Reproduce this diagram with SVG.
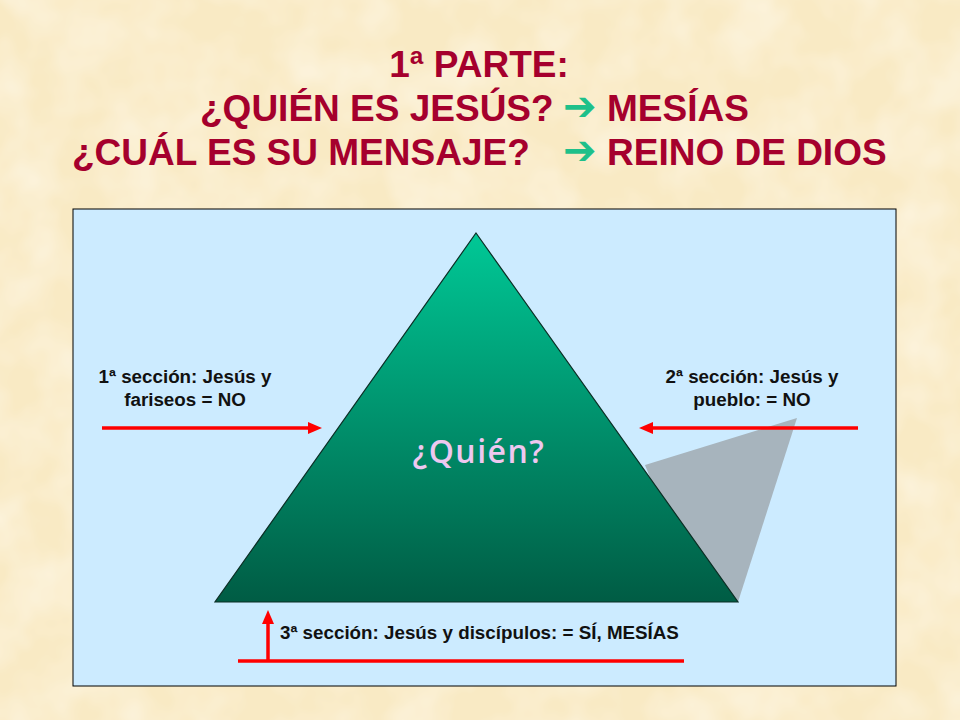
<svg xmlns="http://www.w3.org/2000/svg" width="960" height="720" viewBox="0 0 960 720">
  <defs>
    <style>
      .title { font-family: "Liberation Sans", Arial, sans-serif; font-weight: bold; font-size: 37px; fill: #A5002D; }
      .garrow { font-family: "DejaVu Sans", sans-serif; font-weight: bold; font-size: 40px; fill: #1EC08A; }
      .label { font-family: "Liberation Sans", Arial, sans-serif; font-weight: bold; font-size: 18.8px; fill: #111111; }
      .red { stroke: #FF0000; stroke-width: 3.5; fill: none; }
    </style>
    <filter id="tex" x="0" y="0" width="100%" height="100%">
      <feTurbulence type="fractalNoise" baseFrequency="0.018" numOctaves="3" seed="7"/>
      <feColorMatrix type="matrix" values="0 0 0 0 1  0 0 0 0 0.97  0 0 0 0 0.9  0 0 0 0.9 -0.3"/>
    </filter>
    <linearGradient id="tri" x1="0" y1="0" x2="0" y2="1">
      <stop offset="0" stop-color="#00C896"/>
      <stop offset="1" stop-color="#005C44"/>
    </linearGradient>
    <marker id="ah" markerUnits="userSpaceOnUse" markerWidth="14" markerHeight="12" refX="4" refY="6" orient="auto">
      <path d="M0,0 L14,6 L0,12 z" fill="#FF0000"/>
    </marker>
  </defs>

  <g id="background">
    <rect x="0" y="0" width="960" height="720" fill="#F9EAC4"/>
    <rect x="0" y="0" width="960" height="720" filter="url(#tex)"/>
  </g>

  <g id="title">
    <text class="title" x="479" y="77" text-anchor="middle">1ª PARTE:</text>
    <text class="title" y="121"><tspan x="200">¿QUIÉN ES JESÚS?</tspan><tspan class="garrow" x="563" dy="-1">➔</tspan><tspan x="607" dy="1">MESÍAS</tspan></text>
    <text class="title" y="165"><tspan x="72">¿CUÁL ES SU MENSAJE?</tspan><tspan class="garrow" x="563" dy="-1">➔</tspan><tspan x="607" dy="1">REINO DE DIOS</tspan></text>
  </g>

  <g id="panel">
    <rect x="73" y="209" width="823" height="477" fill="#CCEBFF" stroke="#000000" stroke-width="1"/>
  </g>

  <g id="shadow">
    <polygon points="645,465 797,418 738,602 700,602" fill="#A7B4BD"/>
  </g>

  <g id="pyramid">
    <polygon points="476,233 738,602 215,602" fill="url(#tri)" stroke="#0B2E24" stroke-width="1.2"/>
    <text x="479" y="463" text-anchor="middle" font-family="'Open Sans', 'DejaVu Sans', sans-serif" font-weight="600" font-size="32" letter-spacing="1.5" fill="#EEC8F0">¿Quién?</text>
  </g>

  <g id="label-1">
    <text class="label" x="185" y="383" text-anchor="middle">1ª sección: Jesús y</text>
    <text class="label" x="185" y="406" text-anchor="middle">fariseos = NO</text>
  </g>

  <g id="label-2">
    <text class="label" x="752" y="383" text-anchor="middle">2ª sección: Jesús y</text>
    <text class="label" x="752" y="406" text-anchor="middle">pueblo: = NO</text>
  </g>

  <g id="label-3">
    <text class="label" x="280" y="639">3ª sección: Jesús y discípulos: = SÍ, MESÍAS</text>
  </g>

  <g id="connectors">
    <line class="red" x1="102" y1="428" x2="312" y2="428" marker-end="url(#ah)"/>
    <line class="red" x1="858" y1="428" x2="649" y2="428" marker-end="url(#ah)"/>
    <line class="red" x1="238" y1="661" x2="684" y2="661"/>
    <line class="red" x1="268" y1="661" x2="268" y2="620" marker-end="url(#ah)"/>
  </g>
</svg>
